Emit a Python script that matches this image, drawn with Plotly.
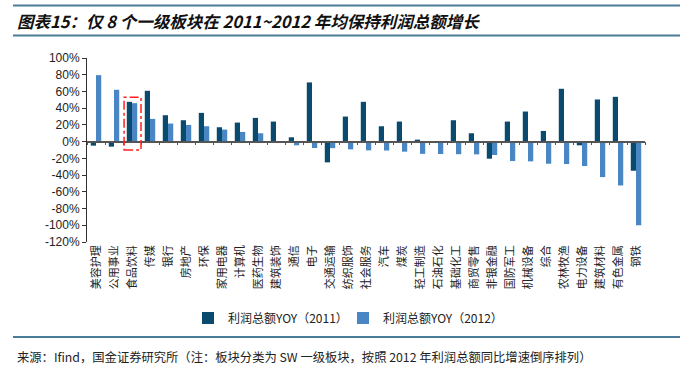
import plotly.graph_objects as go

categories = ["美容护理", "公用事业", "食品饮料", "传媒", "银行", "房地产", "环保", "家用电器",
              "计算机", "医药生物", "建筑装饰", "通信", "电子", "交通运输", "纺织服饰", "社会服务",
              "汽车", "煤炭", "轻工制造", "石油石化", "基础化工", "商贸零售", "非银金融", "国防军工",
              "机械设备", "综合", "农林牧渔", "电力设备", "建筑材料", "有色金属", "钢铁"]
yoy_2011 = [-4.8, -6, 47.6, 60.8, 31.6, 25.6, 34.4, 17.2, 22.8, 28.4, 24, 5.2, 70.8, -24.8, 30, 47.6,
            18.4, 24, 2.4, -1.6, 25.6, 10, -20.4, 24, 36, 12.8, 63.2, -4.4, 50.4, 53.6, -34.8]
yoy_2012 = [79.5, 62, 46, 27.2, 21.6, 20, 18.4, 14.4, 11.6, 10, -1, -4.4, -7.6, -7.8, -9.2, -10.4,
            -10.6, -12, -14.6, -14.8, -15, -15.2, -16, -23.2, -23.6, -26.4, -26.8, -29.2, -42.4, -52.4, -100]
y_ticks = [100, 80, 60, 40, 20, 0, -20, -40, -60, -80, -100, -120]
y_tick_labels = [f"{v}%" for v in y_ticks]
series_names = ["利润总额YOY（2011）", "利润总额YOY（2012）"]
title_text = "图表15：仅 8 个一级板块在 2011~2012 年均保持利润总额增长"
source_text = "来源：Ifind，国金证券研究所（注：板块分类为 SW 一级板块，按照 2012 年利润总额同比增速倒序排列）"

DARK = "#0B4A6F"
LIGHT = "#4A86C4"
LINE = "#4A7C98"
CJK = "Noto Sans CJK SC"
LAT = "Liberation Sans, Arial"

W, H = 693, 370
L, R, T, B = 87, 48, 58, 128
PW, PH = W - L - R, H - T - B


def px(xp):
    return (xp - L) / PW


def py(yp):
    return (H - B - yp) / PH


fig = go.Figure()
fig.add_trace(go.Bar(x=categories, y=yoy_2011, name=series_names[0], marker_color=DARK,
                     marker_line_width=0, legend="legend"))
fig.add_trace(go.Bar(x=categories, y=yoy_2012, name=series_names[1], marker_color=LIGHT,
                     marker_line_width=0, legend="legend2"))
# invisible trace to drive the zero-line category tick axis
fig.add_trace(go.Scatter(x=categories, y=[0] * len(categories), xaxis="x2", mode="markers",
                         marker=dict(opacity=0), showlegend=False, hoverinfo="skip"))

legend_common = dict(orientation="h", yanchor="middle", xanchor="left",
                     font=dict(family=CJK, size=12, color="#222"), itemwidth=30,
                     bgcolor="rgba(0,0,0,0)", borderwidth=0)

fig.update_layout(
    width=W, height=H,
    margin=dict(l=L, r=R, t=T, b=B, autoexpand=False),
    paper_bgcolor="white", plot_bgcolor="white",
    barmode="group", bargap=0.42, bargroupgap=0,
    showlegend=True,
    legend=dict(x=px(188), y=py(318), **legend_common),
    legend2=dict(x=px(343), y=py(318), **legend_common),
    xaxis=dict(type="category", categoryorder="array", categoryarray=categories,
               range=[-0.5, len(categories) - 0.5],
               showline=False, ticks="", tickangle=-90, showgrid=False,
               tickfont=dict(family=CJK, size=11, color="#222")),
    xaxis2=dict(type="category", categoryorder="array", categoryarray=categories,
                range=[-0.5, len(categories) - 0.5], overlaying="x", anchor="free",
                position=120 / 220, showline=True, linecolor="#555", linewidth=1.5,
                ticks="outside", tickson="boundaries", ticklen=3, tickcolor="#555",
                showticklabels=False, showgrid=False),
    yaxis=dict(range=[-120, 100], tickvals=y_ticks, ticktext=y_tick_labels,
               showline=True, linecolor="#333", linewidth=1, ticks="outside", ticklen=4,
               tickcolor="#333", showgrid=False, zeroline=False,
               tickfont=dict(family=LAT, size=12, color="#222")),
    font=dict(family=CJK),
)

# red dash-dot highlight box around 食品饮料
fig.add_shape(type="rect", xref="x", yref="y", x0=1.56, x1=2.5, y0=-10, y1=53,
              line=dict(color="#FF2020", width=1.5, dash="dashdot"))

# header/footer rules
for yy in (5.5, 35.5, 337):
    fig.add_shape(type="line", xref="paper", yref="paper", x0=px(13), x1=px(680),
                  y0=py(yy), y1=py(yy), line=dict(color=LINE, width=2))

fig.add_annotation(text="<b><i>" + title_text + "</i></b>", xref="paper", yref="paper",
                   x=px(15), y=py(20.5), xanchor="left", yanchor="middle", showarrow=False,
                   font=dict(family=CJK, size=16.5, color="#111"))
fig.add_annotation(text=source_text, xref="paper", yref="paper",
                   x=px(15), y=py(357), xanchor="left", yanchor="middle", showarrow=False,
                   font=dict(family=CJK, size=12.3, color="#222"))

fig.write_html("out.html", post_script="document.body.style.margin='0';",
               config={"displayModeBar": False})
